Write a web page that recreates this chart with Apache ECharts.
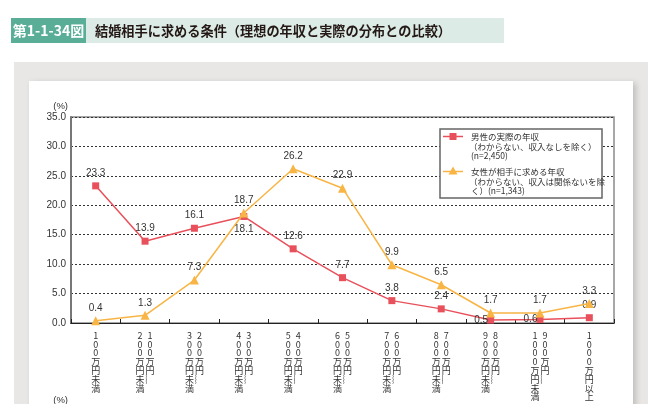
<!DOCTYPE html>
<html><head><meta charset="utf-8">
<script src="https://cdn.jsdelivr.net/npm/echarts@6/dist/echarts.min.js"></script>
<style>html,body{margin:0;padding:0;background:#fff}#c{width:672px;height:404px}</style>
</head><body><div id="c"></div>
<script>
const categories = ['100万円未満','100万円～200万円未満','200万円～300万円未満','300万円～400万円未満','400万円～500万円未満','500万円～600万円未満','600万円～700万円未満','700万円～800万円未満','800万円～900万円未満','900万円～1000万円未満','1000万円以上'];
const maleActual = [23.3, 13.9, 16.1, 18.1, 12.6, 7.7, 3.8, 2.4, 0.5, 0.6, 0.9];
const femaleIdeal = [0.4, 1.3, 7.3, 18.7, 26.2, 22.9, 9.9, 6.5, 1.7, 1.7, 3.3];
const maleName = '男性の実際の年収';
const femaleName = '女性が相手に求める年収';
const titleNo = '第1-1-34図';
const titleText = '結婚相手に求める条件（理想の年収と実際の分布との比較）';

const FONT = '"Liberation Sans","Noto Sans CJK JP",sans-serif';
const JFONT = '"Noto Sans CJK JP","Liberation Sans",sans-serif';
const RED = '#e8505b', YEL = '#f8b545';

const maleLabelPos = ['top','top','top','bottom','top','top','top','top','left','left','top'];

function vertLabel(cat) {
  const parts = cat.split('～');
  const cols = parts.length === 2 ? [parts[1], parts[0] + '︴'] : [cat];
  const chars = cols.map(c => Array.from(c));
  const n = Math.max(...chars.map(c => c.length));
  const lines = [];
  for (let i = 0; i < n; i++) {
    lines.push(chars.map(c => '{c|' + (c[i] || '　') + '}').join(''));
  }
  return lines.join('\n');
}

const chart = echarts.init(document.getElementById('c'), null, {renderer: 'canvas'});
chart.setOption({
  animation: false,
  textStyle: {fontFamily: FONT},
  grid: {left: 71, right: 58, top: 117, bottom: 81, show: true, borderColor: '#8a8a8a', borderWidth: 1.5, backgroundColor: 'transparent'},
  xAxis: {
    type: 'category', data: categories, boundaryGap: true,
    axisLine: {show: true, lineStyle: {color: '#222', width: 1.2}},
    axisTick: {show: true, inside: true, length: 4, interval: 0, lineStyle: {color: '#222'}},
    axisLabel: {
      interval: 0, margin: 8, formatter: vertLabel,
      rich: {c: {width: 10, align: 'center', fontSize: 9, lineHeight: 8.8, color: '#333', fontFamily: JFONT}}
    },
    splitLine: {show: false}
  },
  yAxis: {
    type: 'value', min: 0, max: 35, interval: 5,
    name: '(%)', nameLocation: 'end', nameGap: 6,
    nameTextStyle: {fontSize: 9.5, color: '#333', align: 'right', padding: [0, 3, 0, 0]},
    axisLine: {show: true, lineStyle: {color: '#777', width: 2}},
    axisTick: {show: false},
    axisLabel: {fontSize: 10, color: '#333', margin: 5, formatter: v => v.toFixed(1)},
    splitLine: {show: true, lineStyle: {color: '#333', width: 1, type: [2, 2]}}
  },
  series: [
    {
      name: maleName, type: 'line', data: maleActual.map((v, i) => ({value: v, label: {position: maleLabelPos[i], distance: maleLabelPos[i] === 'left' ? -1 : 4}})),
      symbol: 'rect', symbolSize: 7, z: 3,
      lineStyle: {color: RED, width: 1.5}, itemStyle: {color: RED},
      label: {show: true, fontSize: 10, color: '#333', formatter: p => p.value.toFixed(1)}
    },
    {
      name: femaleName, type: 'line', data: femaleIdeal,
      symbol: 'triangle', symbolSize: 9, z: 4,
      lineStyle: {color: YEL, width: 1.5}, itemStyle: {color: YEL},
      label: {show: true, position: 'top', distance: 3, fontSize: 10, color: '#333', formatter: p => p.value.toFixed(1)}
    }
  ],
  graphic: [
    {type: 'rect', z: -10, shape: {x: 14, y: 62, width: 634, height: 400}, style: {fill: '#e8e7e5'}},
    {type: 'rect', z: -9, shape: {x: 29, y: 81, width: 604, height: 400}, style: {fill: '#ffffff', shadowColor: 'rgba(0,0,0,0.18)', shadowBlur: 6, shadowOffsetX: 3, shadowOffsetY: 2}},
    {type: 'rect', z: -8, shape: {x: 11, y: 18, width: 493, height: 25}, style: {fill: '#dcebe6'}},
    {type: 'rect', z: -7, shape: {x: 11, y: 18, width: 75, height: 25}, style: {fill: '#5aae98'}},
    {type: 'text', z: 10, x: 48.5, y: 31, style: {text: titleNo, fill: '#ffffff', font: 'bold 14px ' + JFONT, textAlign: 'center', textVerticalAlign: 'middle'}},
    {type: 'text', z: 10, x: 95, y: 31, style: {text: titleText, fill: '#231815', font: 'bold 13.2px ' + JFONT, textAlign: 'left', textVerticalAlign: 'middle'}},
    {type: 'text', z: 10, x: 68, y: 400, style: {text: '(%)', fill: '#333', font: '9.5px ' + FONT, textAlign: 'right', textVerticalAlign: 'middle'}},
    {type: 'group', z: 50, children: [
      {type: 'rect', z: 50, shape: {x: 440, y: 129, width: 162, height: 69}, style: {fill: '#fff', stroke: '#666', lineWidth: 1.5}},
      {type: 'line', z: 51, shape: {x1: 443, y1: 136.5, x2: 463, y2: 136.5}, style: {stroke: RED, lineWidth: 1.5}},
      {type: 'rect', z: 52, shape: {x: 449.5, y: 133, width: 7, height: 7}, style: {fill: RED}},
      {type: 'line', z: 51, shape: {x1: 443, y1: 171.5, x2: 463, y2: 171.5}, style: {stroke: YEL, lineWidth: 1.5}},
      {type: 'polygon', z: 52, shape: {points: [[453, 166.5], [457.5, 174.5], [448.5, 174.5]]}, style: {fill: YEL}},
      {type: 'text', z: 52, x: 471, y: 136.5, style: {text: maleName, fill: '#333', font: '8.5px ' + JFONT, textVerticalAlign: 'middle'}},
      {type: 'text', z: 52, x: 469, y: 146.5, style: {text: '（わからない、収入なしを除く）', fill: '#333', font: '8.5px ' + JFONT, textVerticalAlign: 'middle'}},
      {type: 'text', z: 52, x: 471, y: 155.5, style: {text: '(n=2,450)', fill: '#333', font: '8.5px ' + JFONT, textVerticalAlign: 'middle'}},
      {type: 'text', z: 52, x: 471, y: 171.5, style: {text: femaleName, fill: '#333', font: '8.5px ' + JFONT, textVerticalAlign: 'middle'}},
      {type: 'text', z: 52, x: 469, y: 181.5, style: {text: '（わからない、収入は関係ないを除', fill: '#333', font: '8.5px ' + JFONT, textVerticalAlign: 'middle'}},
      {type: 'text', z: 52, x: 471, y: 190.5, style: {text: 'く）(n=1,343)', fill: '#333', font: '8.5px ' + JFONT, textVerticalAlign: 'middle'}}
    ]}
  ]
});
</script></body></html>
